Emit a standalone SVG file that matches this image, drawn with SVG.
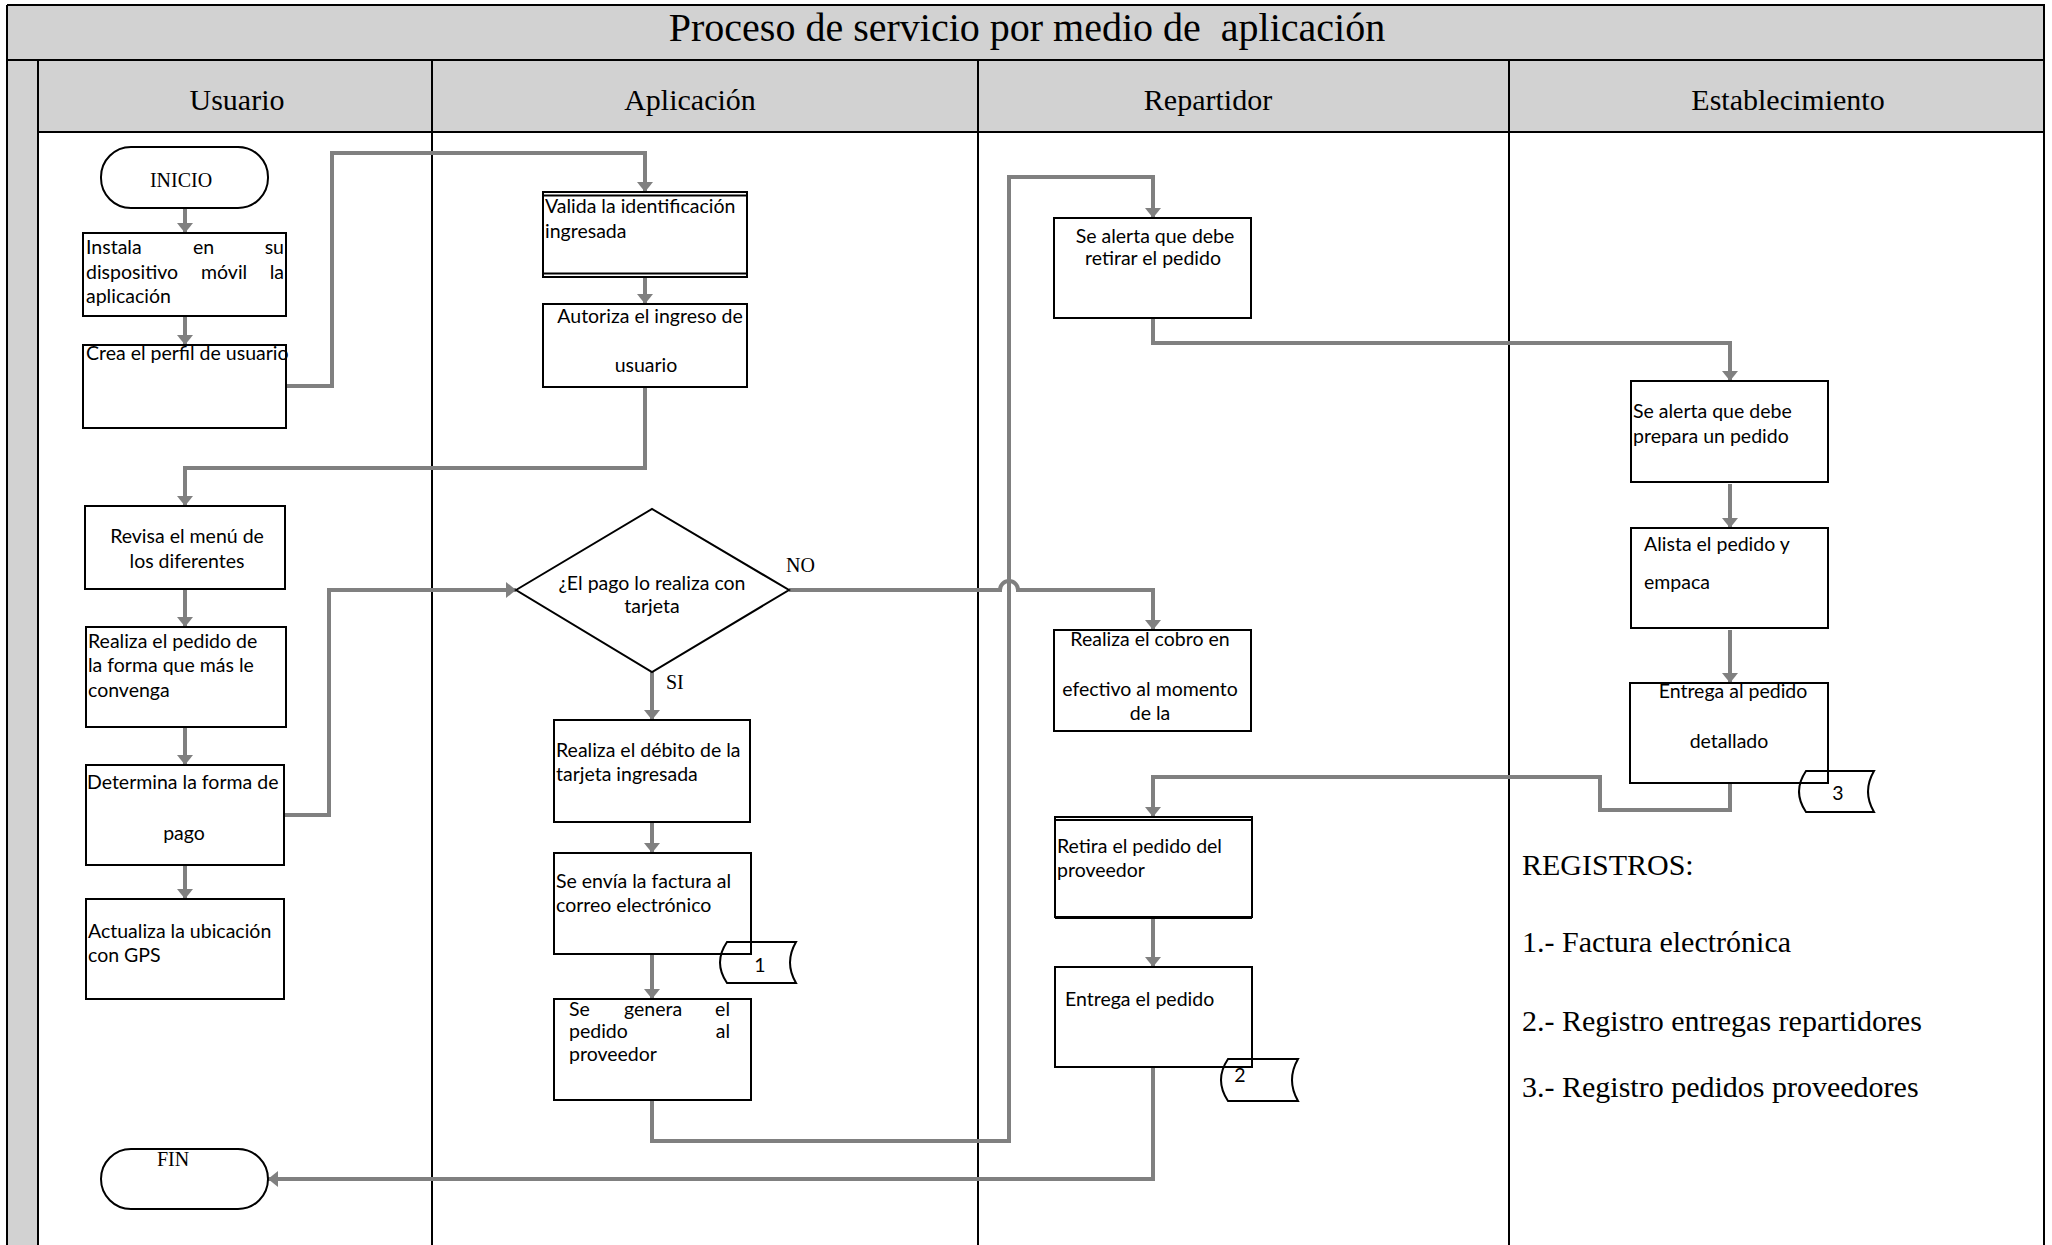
<svg xmlns="http://www.w3.org/2000/svg" width="2052" height="1245" viewBox="0 0 2052 1245">
<style>
.band{fill:#d2d2d2;stroke:none}
.ln{fill:none;stroke:#000;stroke-width:2}
.box{fill:#fff;stroke:#000;stroke-width:2}
.term{fill:#fff;stroke:#000;stroke-width:2}
.doc{fill:none;stroke:#000;stroke-width:2}
.c{fill:none;stroke:#808080;stroke-width:4;stroke-linejoin:miter}
.t{font-family:Lato,'Noto Sans',sans-serif;font-size:19.5px;fill:#000}
.m{text-anchor:middle}
.e{text-anchor:end}
.s{font-family:'Liberation Serif','Times New Roman',serif;fill:#000}
</style>
<defs>
<marker id="ah" markerUnits="userSpaceOnUse" viewBox="0 0 10 16" markerWidth="10" markerHeight="16" refX="10" refY="8" orient="auto">
<path d="M0,0 L10,8 L0,16 z" fill="#808080"/>
</marker>
</defs>
<rect x="0" y="0" width="2052" height="1245" fill="#fff"/>
<g id="frame">
<rect class="band" x="7" y="5" width="2037" height="55"/>
<rect class="band" x="38" y="60" width="2006" height="72"/>
<rect class="band" x="7" y="60" width="31" height="1190"/>
<path class="ln" d="M7,5 H2044 V1250 M7,5 V1250 M7,60 H2044 M38,132 H2044 M38,60 V1250 M432,60 V1250 M978,60 V1250 M1509,60 V1250"/>
<text class="s m" x="1027" y="41" font-size="40" xml:space="preserve">Proceso de servicio por medio de  aplicación</text>
<text class="s m" x="237" y="110" font-size="30">Usuario</text>
<text class="s m" x="690" y="110" font-size="30">Aplicación</text>
<text class="s m" x="1208" y="110" font-size="30">Repartidor</text>
<text class="s m" x="1788" y="110" font-size="30">Establecimiento</text>
</g>
<g id="connectors">
<path class="c" d="M185,208 V233" marker-end="url(#ah)"/>
<path class="c" d="M185,316 V345" marker-end="url(#ah)"/>
<path class="c" d="M286,386 H332 V153 H645 V192" marker-end="url(#ah)"/>
<path class="c" d="M645,277 V304" marker-end="url(#ah)"/>
<path class="c" d="M645,387 V468 H185 V506" marker-end="url(#ah)"/>
<path class="c" d="M185,589 V627" marker-end="url(#ah)"/>
<path class="c" d="M185,727 V765" marker-end="url(#ah)"/>
<path class="c" d="M185,865 V899" marker-end="url(#ah)"/>
<path class="c" d="M284,815 H329 V590 H516" marker-end="url(#ah)"/>
<path class="c" d="M789,590 H1000 A9,9 0 0 1 1018,590 H1153 V630" marker-end="url(#ah)"/>
<path class="c" d="M652,672 V720" marker-end="url(#ah)"/>
<path class="c" d="M652,822 V853" marker-end="url(#ah)"/>
<path class="c" d="M652,954 V999" marker-end="url(#ah)"/>
<path class="c" d="M652,1100 V1141 H1009 V177 H1153 V218" marker-end="url(#ah)"/>
<path class="c" d="M1153,318 V343 H1730 V381" marker-end="url(#ah)"/>
<path class="c" d="M1730,484 V528" marker-end="url(#ah)"/>
<path class="c" d="M1730,630 V683" marker-end="url(#ah)"/>
<path class="c" d="M1730,783 V810 H1600 V777 H1153 V817" marker-end="url(#ah)"/>
<path class="c" d="M1153,917 V967" marker-end="url(#ah)"/>
<path class="c" d="M1153,1067 V1179 H268" marker-end="url(#ah)"/>
</g>
<g id="inicio">
<rect class="term" x="101" y="147" width="167" height="61" rx="30"/>
<text class="s m" x="181" y="187" font-size="20">INICIO</text>
</g>
<g id="instala">
<rect class="box" x="83" y="233" width="203" height="83"/>
<text class="t" x="86" y="254">Instala</text><text class="t" x="193" y="254">en</text><text class="t e" x="284" y="254">su</text>
<text class="t" x="86" y="279">dispositivo</text><text class="t" x="201" y="279">móvil</text><text class="t e" x="284" y="279">la</text>
<text class="t" x="86" y="303">aplicación</text>
</g>
<g id="crea">
<rect class="box" x="83" y="345" width="203" height="83"/>
<text class="t" x="86" y="360">Crea el perfil de usuario</text>
</g>
<g id="revisa">
<rect class="box" x="85" y="506" width="200" height="83"/>
<text class="t m" x="187" y="543">Revisa el menú de</text>
<text class="t m" x="187" y="568">los diferentes</text>
</g>
<g id="realiza-pedido">
<rect class="box" x="86" y="627" width="200" height="100"/>
<text class="t" x="88" y="648">Realiza el pedido de</text>
<text class="t" x="88" y="672">la forma que más le</text>
<text class="t" x="88" y="697">convenga</text>
</g>
<g id="determina">
<rect class="box" x="86" y="765" width="198" height="100"/>
<text class="t" x="87" y="789">Determina la forma de</text>
<text class="t m" x="184" y="840">pago</text>
</g>
<g id="actualiza">
<rect class="box" x="86" y="899" width="198" height="100"/>
<text class="t" x="88" y="938">Actualiza la ubicación</text>
<text class="t" x="88" y="962">con GPS</text>
</g>
<g id="fin">
<rect class="term" x="101" y="1149" width="167" height="60" rx="30"/>
<text class="s m" x="173" y="1166" font-size="20">FIN</text>
</g>
<g id="valida">
<rect class="box" x="543" y="192" width="204" height="85" stroke-width="2.5"/>
<path class="ln" d="M543,195.5 H747 M543,273.5 H747" stroke-width="1.5"/>
<text class="t" x="545" y="213">Valida la identificación</text>
<text class="t" x="545" y="238">ingresada</text>
</g>
<g id="autoriza">
<rect class="box" x="543" y="304" width="204" height="83"/>
<text class="t m" x="650" y="323">Autoriza el ingreso de</text>
<text class="t m" x="646" y="372">usuario</text>
</g>
<g id="decision">
<polygon class="box" points="516,590 652,509 789,590 652,672"/>
<text class="t m" x="652" y="590">¿El pago lo realiza con</text>
<text class="t m" x="652" y="613">tarjeta</text>
<text class="s" x="786" y="572" font-size="20">NO</text>
<text class="s" x="666" y="689" font-size="20">SI</text>
</g>
<g id="debito">
<rect class="box" x="554" y="720" width="196" height="102"/>
<text class="t" x="556" y="757">Realiza el débito de la</text>
<text class="t" x="556" y="781">tarjeta ingresada</text>
</g>
<g id="envia">
<rect class="box" x="554" y="853" width="197" height="101"/>
<text class="t" x="556" y="888">Se envía la factura al</text>
<text class="t" x="556" y="912">correo electrónico</text>
</g>
<g id="doc1">
<path class="doc" d="M727,942 L796,942 Q784,962.5 796,983 L727,983 Q713,962.5 727,942 Z"/>
<text class="t m" x="760" y="972" font-size="18">1</text>
</g>
<g id="genera">
<rect class="box" x="554" y="999" width="197" height="101"/>
<text class="t" x="569" y="1016">Se</text><text class="t" x="624" y="1016">genera</text><text class="t e" x="730" y="1016">el</text>
<text class="t" x="569" y="1038">pedido</text><text class="t e" x="730" y="1038">al</text>
<text class="t" x="569" y="1061">proveedor</text>
</g>
<g id="alerta-retirar">
<rect class="box" x="1054" y="218" width="197" height="100"/>
<text class="t m" x="1155" y="243">Se alerta que debe</text>
<text class="t m" x="1153" y="265">retirar el pedido</text>
</g>
<g id="cobro">
<rect class="box" x="1054" y="630" width="197" height="101"/>
<text class="t m" x="1150" y="646">Realiza el cobro en</text>
<text class="t m" x="1150" y="696">efectivo al momento</text>
<text class="t m" x="1150" y="720">de la</text>
</g>
<g id="retira">
<rect class="box" x="1055" y="817" width="197" height="100"/>
<path class="ln" d="M1055,820 H1252" stroke-width="1.5"/>
<path class="ln" d="M1055,918 H1252" stroke-width="3"/>
<text class="t" x="1057" y="853">Retira el pedido del</text>
<text class="t" x="1057" y="877">proveedor</text>
</g>
<g id="entrega">
<rect class="box" x="1055" y="967" width="197" height="100"/>
<text class="t" x="1065" y="1006">Entrega el pedido</text>
</g>
<g id="doc2">
<path class="doc" d="M1228,1059 L1298,1059 Q1286,1080 1298,1101 L1228,1101 Q1214,1080 1228,1059 Z"/>
<text class="t m" x="1240" y="1082" font-size="18">2</text>
</g>
<g id="alerta-preparar">
<rect class="box" x="1631" y="381" width="197" height="101"/>
<text class="t" x="1633" y="418">Se alerta que debe</text>
<text class="t" x="1633" y="443">prepara un pedido</text>
</g>
<g id="alista">
<rect class="box" x="1631" y="528" width="197" height="100"/>
<text class="t" x="1644" y="551">Alista el pedido y</text>
<text class="t" x="1644" y="589">empaca</text>
</g>
<g id="entrega-detallado">
<rect class="box" x="1630" y="683" width="198" height="100"/>
<text class="t m" x="1733" y="698">Entrega al pedido</text>
<text class="t m" x="1729" y="748">detallado</text>
</g>
<g id="doc3">
<path class="doc" d="M1806,771 L1874,771 Q1862,791.5 1874,812 L1806,812 Q1792,791.5 1806,771 Z"/>
<text class="t m" x="1838" y="800" font-size="18">3</text>
</g>
<g id="registros">
<text class="s" x="1522" y="875" font-size="30">REGISTROS:</text>
<text class="s" x="1522" y="952" font-size="30">1.- Factura electrónica</text>
<text class="s" x="1522" y="1031" font-size="30">2.- Registro entregas repartidores</text>
<text class="s" x="1522" y="1097" font-size="30">3.- Registro pedidos proveedores</text>
</g>
</svg>
